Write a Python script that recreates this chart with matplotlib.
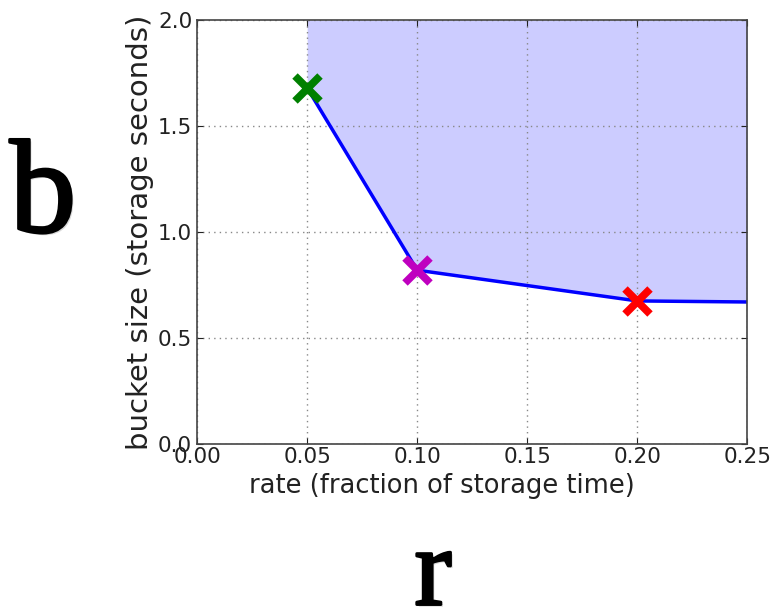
import matplotlib
matplotlib.use("Agg")
import matplotlib.pyplot as plt
import matplotlib.patheffects as pe

# token bucket curve: rate vs. required bucket size
rate = [0.05, 0.10, 0.20, 0.25]
bucket = [1.68, 0.82, 0.675, 0.67]

# highlighted operating points
pt_rate = [0.05, 0.10, 0.20]
pt_bucket = [1.68, 0.82, 0.675]
pt_color = ["green", "m", "red"]

xticks = [0.00, 0.05, 0.10, 0.15, 0.20, 0.25]
yticks = [0.0, 0.5, 1.0, 1.5, 2.0]

fig = plt.figure(figsize=(7.76, 6.07), dpi=100)
ax = fig.add_axes([0.254, 0.2685, 0.709, 0.6985])

ax.fill_between(rate, bucket, 2.0, color="blue", alpha=0.2, linewidth=0)
ax.plot(rate, bucket, color="blue", linewidth=2.5)
for x, y, c in zip(pt_rate, pt_bucket, pt_color):
    ax.plot(x, y, marker="x", color=c, markersize=18, markeredgewidth=5.5)

ax.set_xlim(0, 0.25)
ax.set_ylim(0, 2.0)
ax.set_xticks(xticks)
ax.set_yticks(yticks)
ax.set_xticklabels(["%.2f" % t for t in xticks])
ax.set_yticklabels(["%.1f" % t for t in yticks])
ax.tick_params(direction="in", top=True, right=True, length=4, labelsize=15.5,
               colors="#222222")
ax.tick_params(axis="x", pad=2)
ax.grid(True, linestyle=(0, (1, 3)), color="#888888", linewidth=1)
for s in ax.spines.values():
    s.set_color("#444444")
    s.set_linewidth(1.2)

ax.set_xlabel("rate (fraction of storage time)", fontsize=18.5, color="#222222")
ax.xaxis.set_label_coords(0.445, -0.068, transform=ax.transAxes)
ax.set_ylabel("bucket size (storage seconds)", fontsize=21, color="#222222")
ax.yaxis.set_label_coords(-0.078, 0.5, transform=ax.transAxes)

# big variable names next to the axes
heavy = [pe.SimplePatchShadow(offset=(1.5, -1.5), alpha=0.15),
         pe.Stroke(linewidth=2, foreground="black"), pe.Normal()]
fig.text(0.0554, 0.618, "b", fontsize=96, family="Liberation Serif",
         ha="center", va="baseline", path_effects=heavy)
fig.text(0.558, 0.004, "r", fontsize=80, family="Liberation Serif",
         ha="center", va="baseline", path_effects=heavy)

fig.savefig("out.png", dpi=100)
